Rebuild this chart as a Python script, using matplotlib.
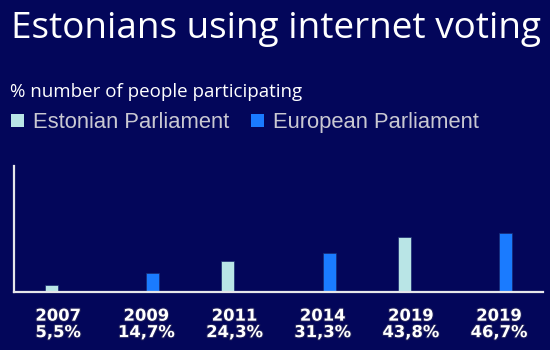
import matplotlib
matplotlib.use("Agg")
import matplotlib.pyplot as plt
import matplotlib.patheffects as pe
from matplotlib.patches import Rectangle
import numpy as np

# Data
years = ["2007", "2009", "2011", "2014", "2019", "2019"]
values = [5.5, 14.7, 24.3, 31.3, 43.8, 46.7]
value_labels = ["5,5%", "14,7%", "24,3%", "31,3%", "43,8%", "46,7%"]
election = ["Estonian Parliament", "European Parliament", "Estonian Parliament",
            "European Parliament", "Estonian Parliament", "European Parliament"]
series = ["Estonian Parliament", "European Parliament"]
colors = {"Estonian Parliament": "#b9e5e6", "European Parliament": "#1a7bff"}

BG = "#03065a"
FONT = "Open Sans"

fig = plt.figure(figsize=(5.5, 3.5), dpi=100, facecolor=BG)
W, H = 550, 350
ax = fig.add_axes([14 / W, (H - 292) / H, (543 - 14) / W, (292 - 166) / H])
ax.set_facecolor(BG)

x = np.arange(len(years))
bw = 0.147
offsets = {"Estonian Parliament": -bw / 2, "European Parliament": bw / 2}
for s in series:
    idx = [i for i, e in enumerate(election) if e == s]
    ax.bar(x[idx] + offsets[s], [values[i] for i in idx], width=bw,
           color=colors[s], edgecolor="#1a2a70", linewidth=0.5, zorder=2)

ax.set_xlim(-0.5, len(years) - 0.5)
ax.set_ylim(0, 100)
ax.set_yticks([])
ax.set_xticks(x)
ax.set_xticklabels([f"{y}\n{v}" for y, v in zip(years, value_labels)],
                   fontfamily="DejaVu Sans", fontweight="bold", fontsize=11.8,
                   color="white", linespacing=1.12)
for t in ax.get_xticklabels():
    t.set_path_effects([pe.withStroke(linewidth=1.5, foreground="#20205a")])
ax.tick_params(axis="x", length=0, pad=12)
for side in ["top", "right"]:
    ax.spines[side].set_visible(False)
for side in ["left", "bottom"]:
    ax.spines[side].set_color("#e6e6ea")
    ax.spines[side].set_linewidth(1.6)
    ax.spines[side].set_zorder(3)

# Title and subtitle
fig.text(11 / W, 1 - 38 / H, "Estonians using internet voting", fontfamily=FONT,
         fontsize=26.6, color="white", ha="left", va="baseline")
fig.text(10 / W, 1 - 97 / H, "% number of people participating", fontfamily=FONT,
         fontsize=13.5, color="white", ha="left", va="baseline")

# Legend
leg_x = [11, 251]
for s, lx in zip(series, leg_x):
    fig.patches.append(Rectangle((lx / W, 1 - 127 / H), 13 / W, 13 / H,
                                 transform=fig.transFigure, facecolor=colors[s],
                                 edgecolor="none"))
    fig.text((lx + 22) / W, 1 - 128 / H, s, fontfamily="Liberation Sans",
             fontsize=15.8, color="#c9c8d2", ha="left", va="baseline")

fig.savefig("out.png", dpi=100, facecolor=BG)
